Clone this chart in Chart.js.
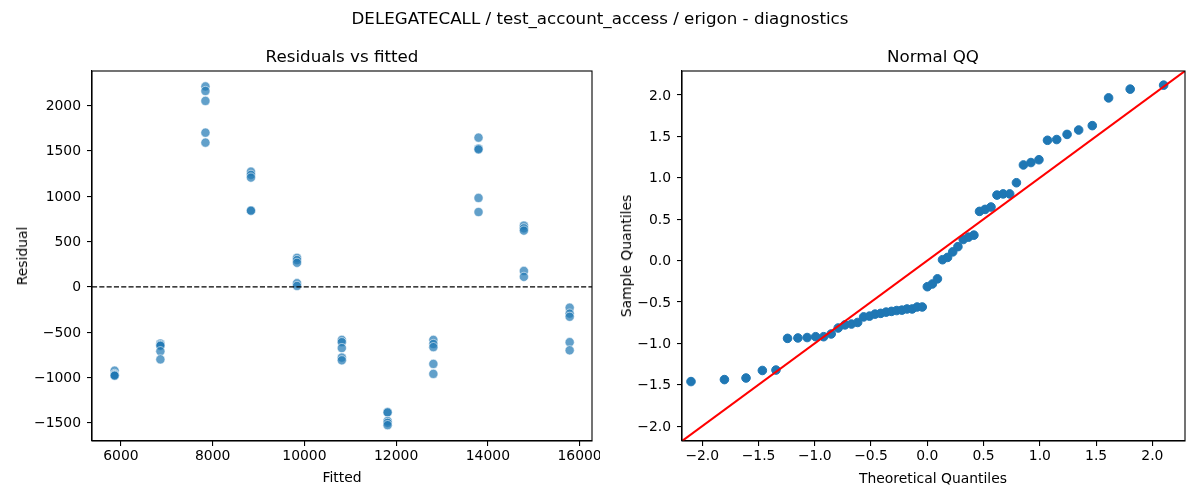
<!DOCTYPE html>
<html><head><meta charset="utf-8">
<script src="https://cdn.jsdelivr.net/npm/chart.js@4.4.1/dist/chart.umd.min.js"></script>
<style>
html,body{margin:0;padding:0;background:#fff;}
#wrap{position:relative;width:1200px;height:500px;overflow:hidden;font-family:'DejaVu Sans',sans-serif;color:#000;background:#fff;}
canvas{position:absolute;top:0;}
.t{position:absolute;transform:translate(-50%,-50%);white-space:nowrap;}
.big{font-size:16.7px;}
.lab{font-size:13.9px;}
.rot{transform:translate(-50%,-50%) rotate(-90deg);}
</style></head><body>
<div id="wrap">
<canvas id="c1" width="600" height="500" style="left:0;width:600px;height:500px"></canvas>
<canvas id="c2" width="600" height="500" style="left:600px;width:600px;height:500px"></canvas>
<div class="t big" style="left:600px;top:18px">DELEGATECALL / test_account_access / erigon - diagnostics</div>
<div class="t big" style="left:342px;top:56px">Residuals vs fitted</div>
<div class="t big" style="left:933px;top:56px">Normal QQ</div>
<div class="t lab" style="left:342px;top:477px">Fitted</div>
<div class="t lab rot" style="left:22px;top:256px">Residual</div>
<div class="t lab" style="left:933px;top:478px">Theoretical Quantiles</div>
<div class="t lab rot" style="left:626px;top:256px">Sample Quantiles</div>
</div>
<script>
// ---- data ----
const fitted = [
  5863,5863,5863,5863,5863,
  6861,6861,6861,6861,6861,
  7843,7843,7843,7843,7843,
  8835,8835,8835,8835,8835,
  9839,9839,9839,9839,9839,
  10816,10816,10816,10816,10816,
  11814,11814,11814,11814,11814,
  12812,12812,12812,12812,12812,
  13796,13796,13796,13796,13796,
  14785,14785,14785,14785,14785,
  15783,15783,15783,15783,15783
];
const residual = [
  -925,-960,-970,-975,-980,
  -625,-640,-650,-710,-800,
  2210,2160,2050,1700,1590,
  1270,1235,1205,840,840,
  320,295,265,40,10,
  -585,-610,-675,-780,-810,
  -1380,-1385,-1480,-1500,-1525,
  -585,-630,-665,-850,-960,
  1645,1525,1515,980,825,
  675,645,620,175,110,
  -230,-295,-330,-610,-700
];
const theoreticalQ = [
  -2.100,-1.803,-1.611,-1.466,-1.345,-1.242,-1.150,-1.068,-0.992,-0.921,
  -0.854,-0.792,-0.732,-0.674,-0.619,-0.566,-0.514,-0.464,-0.414,-0.366,
  -0.319,-0.272,-0.226,-0.180,-0.135,-0.090,-0.045,0.000,0.045,0.090,
  0.135,0.180,0.226,0.272,0.319,0.366,0.414,0.464,0.514,0.566,
  0.619,0.674,0.732,0.792,0.854,0.921,0.992,1.068,1.150,1.242,
  1.345,1.466,1.611,1.803,2.100
];
const sampleQ = [
  -1.462,-1.438,-1.419,-1.328,-1.323,-0.940,-0.935,-0.930,-0.920,-0.920,
  -0.887,-0.815,-0.777,-0.767,-0.748,-0.681,-0.671,-0.647,-0.638,-0.623,
  -0.614,-0.604,-0.599,-0.585,-0.585,-0.561,-0.561,-0.316,-0.283,-0.221,
  0.010,0.038,0.105,0.168,0.254,0.283,0.307,0.594,0.618,0.647,
  0.791,0.805,0.805,0.940,1.155,1.184,1.218,1.453,1.462,1.524,
  1.577,1.630,1.965,2.071,2.119
];
const residXTicks = [6000, 8000, 10000, 12000, 14000, 16000];
const residYTicks = [-1500, -1000, -500, 0, 500, 1000, 1500, 2000];
const qqTicks = [-2.0, -1.5, -1.0, -0.5, 0.0, 0.5, 1.0, 1.5, 2.0];
const residXRange = [5370, 16270];
const residYRange = [-1700, 2380];
const qqRange = [-2.18, 2.29];
const zeroLevel = 0;

// ---- helpers ----
const FONT = {family: "'DejaVu Sans', sans-serif", size: 13.9};
const minus = s => String(s).replace('-', '\u2212');
const fmtInt = v => minus(Math.round(v));
const fmt1 = v => minus(v.toFixed(1));

function axis(range, ticks, fmt, isX, fixed) {
  return {
    type: 'linear',
    min: range[0], max: range[1],
    afterBuildTicks: s => { s.ticks = ticks.map(v => ({value: v})); },
    ticks: {color: '#000', font: FONT, padding: isX ? 2 : 6, labelOffset: isX ? 0 : 1,
            maxRotation: 0, autoSkip: false, callback: v => fmt(v)},
    grid: {display: true, drawOnChartArea: false, drawTicks: true, tickLength: 5,
           color: '#000', lineWidth: 1.1},
    border: {display: true, color: '#000', width: 1.1},
    afterFit: s => {
      if (isX) s.height = fixed; else s.width = fixed;
      s.paddingLeft = 0; s.paddingRight = 0; s.paddingTop = 0; s.paddingBottom = 0;
    }
  };
}

const framePlugin = {
  id: 'frame',
  afterDraw(chart) {
    const a = chart.chartArea, ctx = chart.ctx;
    ctx.save();
    ctx.strokeStyle = '#000';
    ctx.lineWidth = 1.1;
    ctx.strokeRect(a.left, a.top, a.right - a.left, a.bottom - a.top);
    ctx.restore();
  }
};

const common = {
  responsive: false,
  animation: false,
  devicePixelRatio: 1,
  plugins: {legend: {display: false}, tooltip: {enabled: false}, title: {display: false}},
  events: []
};

// ---- residuals vs fitted ----
new Chart(document.getElementById('c1'), {
  type: 'scatter',
  data: {
    datasets: [
      {
        type: 'line',
        data: [{x: residXRange[0], y: zeroLevel}, {x: residXRange[1], y: zeroLevel}],
        borderColor: '#000', borderWidth: 1.4, borderDash: [5.1, 2.2],
        pointRadius: 0, fill: false
      },
      {
        data: fitted.map((v, i) => ({x: v, y: residual[i]})),
        backgroundColor: 'rgba(31,119,180,0.7)',
        borderColor: 'rgba(255,255,255,0.7)',
        borderWidth: 0.8,
        pointRadius: 4.6
      }
    ]
  },
  options: Object.assign({}, common, {
    layout: {padding: {left: 0, top: 71, right: 8, bottom: 0}},
    scales: {
      x: axis(residXRange, residXTicks, fmtInt, true, 59),
      y: axis(residYRange, residYTicks, fmtInt, false, 92)
    }
  }),
  plugins: [framePlugin]
});

// ---- normal QQ ----
new Chart(document.getElementById('c2'), {
  type: 'scatter',
  data: {
    datasets: [
      {
        type: 'line',
        data: [{x: qqRange[0], y: qqRange[0]}, {x: qqRange[1], y: qqRange[1]}],
        borderColor: '#ff0000', borderWidth: 2.1,
        pointRadius: 0, fill: false
      },
      {
        data: theoreticalQ.map((v, i) => ({x: v, y: sampleQ[i]})),
        backgroundColor: '#1f77b4',
        borderColor: '#1f77b4',
        borderWidth: 1,
        pointRadius: 4.3
      }
    ]
  },
  options: Object.assign({}, common, {
    layout: {padding: {left: 0, top: 71, right: 15, bottom: 0}},
    scales: {
      x: axis(qqRange, qqTicks, fmt1, true, 59),
      y: axis(qqRange, qqTicks, fmt1, false, 82)
    }
  }),
  plugins: [framePlugin]
});
</script>
</body></html>
